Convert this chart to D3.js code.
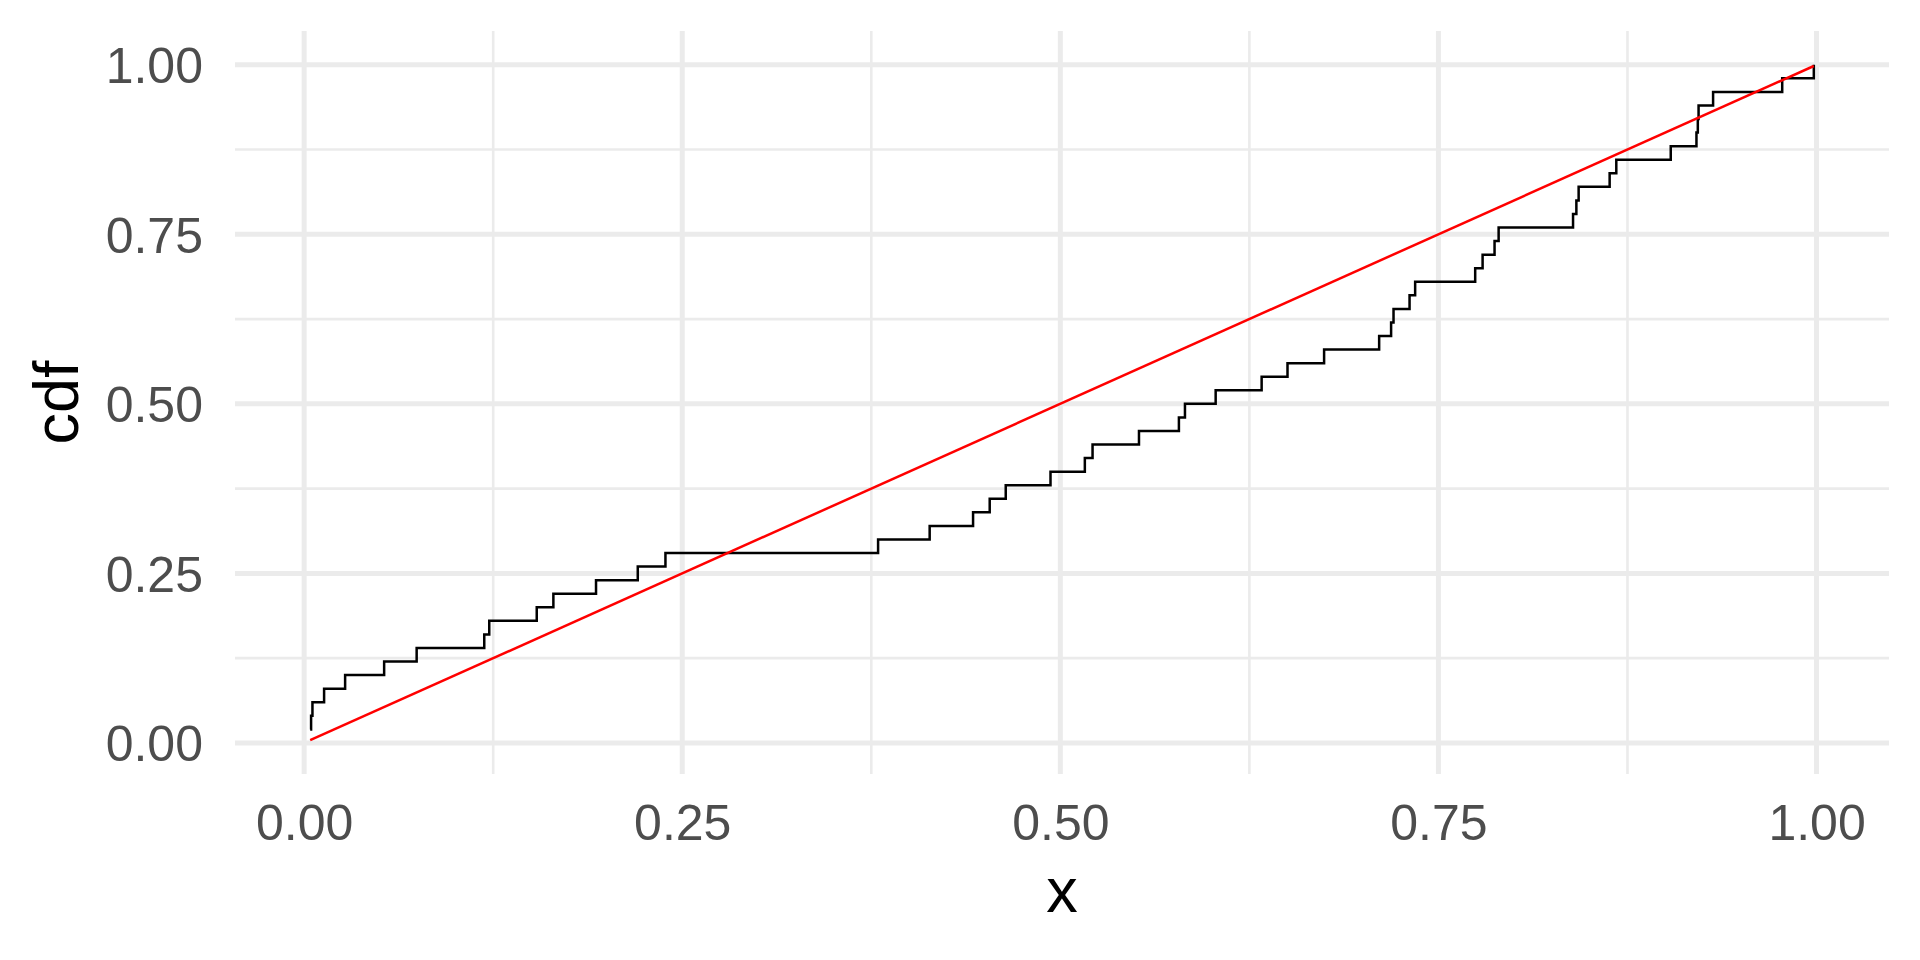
<!DOCTYPE html>
<html>
<head>
<meta charset="utf-8">
<script src="https://cdn.jsdelivr.net/npm/d3@7"></script>
<style>
  body { margin: 0; background: #fff; }
  svg { display: block; }
</style>
</head>
<body>
<div id="chart"></div>
<script>
// sorted sample values
const sampleX = [
  0.0040, 0.0046, 0.0055, 0.0132, 0.0271, 0.0529, 0.0744, 0.1191, 0.1224, 0.1538,
  0.1648, 0.1930, 0.2206, 0.2389, 0.3795, 0.4136, 0.4423, 0.4533, 0.4639, 0.4935,
  0.5162, 0.5213, 0.5520, 0.5784, 0.5824, 0.6027, 0.6331, 0.6502, 0.6744, 0.7108,
  0.7187, 0.7203, 0.7309, 0.7346, 0.7743, 0.7792, 0.7871, 0.7898, 0.8390, 0.8412,
  0.8427, 0.8632, 0.8676, 0.9036, 0.9206, 0.9215, 0.9220, 0.9316, 0.9773, 0.9982
];
// empirical cdf level after each sample
const cdfValues = [
  0.02, 0.04, 0.06, 0.08, 0.10, 0.12, 0.14, 0.16, 0.18, 0.20,
  0.22, 0.24, 0.26, 0.28, 0.30, 0.32, 0.34, 0.36, 0.38, 0.40,
  0.42, 0.44, 0.46, 0.48, 0.50, 0.52, 0.54, 0.56, 0.58, 0.60,
  0.62, 0.64, 0.66, 0.68, 0.70, 0.72, 0.74, 0.76, 0.78, 0.80,
  0.82, 0.84, 0.86, 0.88, 0.90, 0.92, 0.94, 0.96, 0.98, 1.00
];
// uniform reference cdf (red line), ends only
const refX = [0.0040, 0.9982];
const refCdf = [0.0040, 0.9982];

const majorTicks = [0, 0.25, 0.5, 0.75, 1];
const minorTicks = [0.125, 0.375, 0.625, 0.875];

const width = 1920, height = 960;
const margin = { top: 31, right: 31, bottom: 186, left: 235 };

// ggplot style 5% expansion
const expand = (ext) => {
    let pad = (ext[1] - ext[0]) * 0.05;
    return [ext[0] - pad, ext[1] + pad];
};

let xExt = d3.extent(sampleX.concat(refX));
let yExt = d3.extent(cdfValues.concat(refCdf));

let x = d3.scaleLinear()
    .domain(expand(xExt))
    .range([margin.left, width - margin.right]);
let y = d3.scaleLinear()
    .domain(expand(yExt))
    .range([height - margin.bottom, margin.top]);

let svg = d3.select('#chart').append('svg')
    .attr('width', width)
    .attr('height', height);

const gridColor = '#EBEBEB';
let grid = svg.append('g');

// minor grid first, majors on top
grid.selectAll('.vminor').data(minorTicks).enter().append('line')
    .attr('x1', d => x(d)).attr('x2', d => x(d))
    .attr('y1', margin.top).attr('y2', height - margin.bottom)
    .attr('stroke', gridColor).attr('stroke-width', 2.6);
grid.selectAll('.hminor').data(minorTicks).enter().append('line')
    .attr('y1', d => y(d)).attr('y2', d => y(d))
    .attr('x1', margin.left).attr('x2', width - margin.right)
    .attr('stroke', gridColor).attr('stroke-width', 2.6);
grid.selectAll('.vmajor').data(majorTicks).enter().append('line')
    .attr('x1', d => x(d)).attr('x2', d => x(d))
    .attr('y1', margin.top).attr('y2', height - margin.bottom)
    .attr('stroke', gridColor).attr('stroke-width', 5);
grid.selectAll('.hmajor').data(majorTicks).enter().append('line')
    .attr('y1', d => y(d)).attr('y2', d => y(d))
    .attr('x1', margin.left).attr('x2', width - margin.right)
    .attr('stroke', gridColor).attr('stroke-width', 5);

// ecdf step line
let steps = sampleX.map((v, i) => [v, cdfValues[i]]);
let stepLine = d3.line()
    .x(d => x(d[0]))
    .y(d => y(d[1]))
    .curve(d3.curveStepAfter);
svg.append('path')
    .datum(steps)
    .attr('d', stepLine)
    .attr('fill', 'none')
    .attr('stroke', '#000')
    .attr('stroke-width', 2.5);

// reference line
let ref = refX.map((v, i) => [v, refCdf[i]]);
svg.append('path')
    .datum(ref)
    .attr('d', d3.line().x(d => x(d[0])).y(d => y(d[1])))
    .attr('fill', 'none')
    .attr('stroke', '#FF0000')
    .attr('stroke-width', 2.5);

const font = '"Liberation Sans", Arial, Helvetica, sans-serif';
const fmt = d3.format('.2f');

let yAxis = d3.axisLeft(y).tickValues(majorTicks).tickFormat(fmt).tickSize(0).tickPadding(32);
let yg = svg.append('g')
    .attr('transform', `translate(${margin.left},0)`)
    .call(yAxis);
let xAxis = d3.axisBottom(x).tickValues(majorTicks).tickFormat(fmt).tickSize(0).tickPadding(30);
let xg = svg.append('g')
    .attr('transform', `translate(0,${height - margin.bottom})`)
    .call(xAxis);

[yg, xg].forEach(g => {
    g.select('.domain').remove();
    g.selectAll('text')
        .style('font-family', font)
        .style('font-size', '50px')
        .attr('fill', '#4D4D4D');
});
yg.selectAll('text').attr('dy', '0.36em');

// axis titles
svg.append('text')
    .attr('x', (margin.left + width - margin.right) / 2)
    .attr('y', 912)
    .attr('text-anchor', 'middle')
    .style('font-family', font)
    .style('font-size', '63px')
    .attr('fill', '#000')
    .text('x');
svg.append('text')
    .attr('transform', `translate(78,${(margin.top + height - margin.bottom) / 2}) rotate(-90)`)
    .attr('text-anchor', 'middle')
    .style('font-family', font)
    .style('font-size', '63px')
    .attr('fill', '#000')
    .text('cdf');
</script>
</body>
</html>
